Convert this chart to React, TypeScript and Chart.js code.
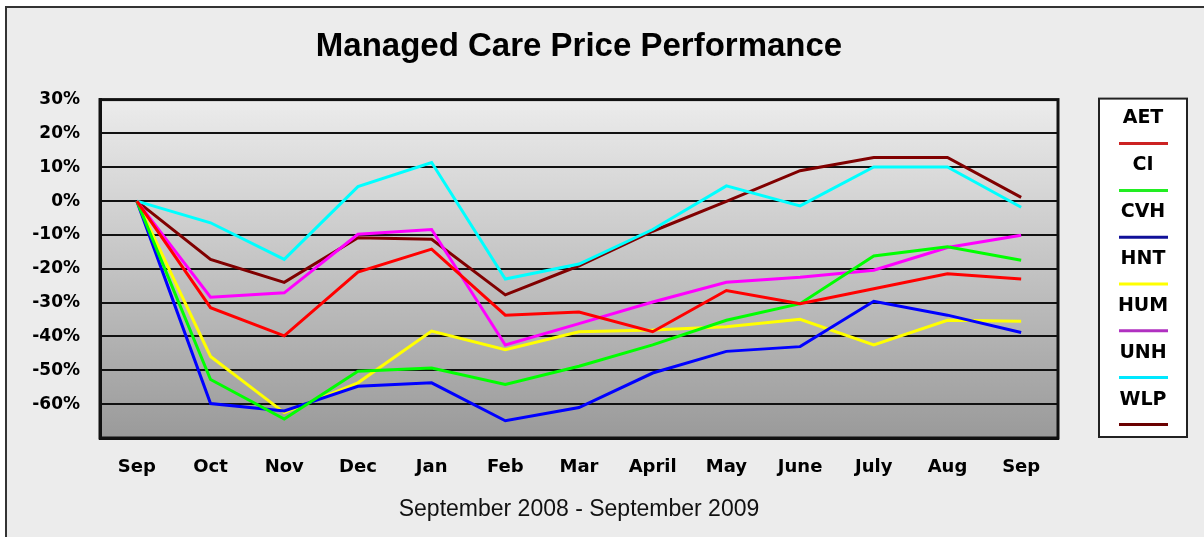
import React, { useEffect, useRef } from 'react';
import { Chart, registerables } from 'chart.js';

Chart.register(...registerables);

const months = ['Sep', 'Oct', 'Nov', 'Dec', 'Jan', 'Feb', 'Mar', 'April', 'May', 'June', 'July', 'Aug', 'Sep'];
const tickers = ['AET', 'CI', 'CVH', 'HNT', 'HUM', 'UNH', 'WLP'];
const aet = [0, -31.5, -39.8, -21, -14.2, -33.7, -32.8, -38.6, -26.4, -30.3, -25.9, -21.5, -23];
const ci = [0, -52.7, -64.4, -50.3, -49.3, -54.2, -48.8, -42.5, -35.2, -30.3, -16.2, -13.5, -17.5];
const cvh = [0, -59.8, -62, -54.7, -53.7, -64.9, -61, -50.8, -44.4, -43, -29.6, -33.7, -38.8];
const hnt = [0, -45.9, -62.5, -53.7, -38.4, -43.9, -38.6, -38.1, -37.1, -34.9, -42.5, -35.2, -35.5];
const hum = [0, -28.4, -27.1, -9.8, -8.4, -42.5, -36.2, -29.8, -24, -22.5, -20.4, -13.7, -10.1];
const unh = [0, -6.4, -17.2, 4.3, 11.4, -23, -18.6, -8.4, 4.5, -1.4, 10.1, 10.1, -1.8];
const wlp = [0, -17.2, -24, -10.8, -11.3, -27.7, -19.1, -8.9, -0.1, 9, 12.9, 12.9, 1.1];
const seriesValues = [aet, ci, cvh, hnt, hum, unh, wlp];
const colors = ['#ff0000', '#00ff00', '#0000ff', '#ffff00', '#ff00ff', '#00ffff', '#800000'];
const legendColors = ['#cc2222', '#22ee22', '#101099', '#ffff00', '#b030c0', '#00e8ff', '#6a0000'];
const yMin = -70;
const yMax = 30;
const yStep = 10;

const bgPlugin = {
  id: 'plotBg',
  beforeDraw(chart: any) {
    const { ctx, chartArea: a } = chart;
    ctx.save();
    const g = ctx.createLinearGradient(0, a.top, 0, a.bottom);
    g.addColorStop(0, '#ececec');
    g.addColorStop(1, '#9a9a9a');
    ctx.fillStyle = g;
    ctx.fillRect(a.left, a.top, a.right - a.left, a.bottom - a.top);
    ctx.restore();
  },
  afterDraw(chart: any) {
    const { ctx, chartArea: a } = chart;
    ctx.save();
    ctx.strokeStyle = '#111';
    ctx.lineWidth = 3;
    ctx.strokeRect(a.left, a.top, a.right - a.left, a.bottom - a.top);
    // side legend
    const left = a.right + 41;
    const top = a.top - 1;
    const w = 88;
    const h = a.bottom - a.top;
    ctx.fillStyle = '#ffffff';
    ctx.fillRect(left, top, w, h);
    ctx.strokeStyle = '#222';
    ctx.lineWidth = 2;
    ctx.strokeRect(left, top, w, h);
    const cx = left + w / 2;
    ctx.font = 'bold 19px "DejaVu Sans"';
    ctx.textAlign = 'center';
    ctx.textBaseline = 'middle';
    chart.data.datasets.forEach((ds: any, i: number) => {
      const ty = top + 19 + 47 * i;
      const ly = top + 45 + 46.8 * i;
      ctx.fillStyle = '#000';
      ctx.fillText(ds.label, cx, ty);
      ctx.strokeStyle = legendColors[i] || ds.borderColor;
      ctx.lineWidth = 3;
      ctx.beginPath();
      ctx.moveTo(cx - 24, ly);
      ctx.lineTo(cx + 25, ly);
      ctx.stroke();
    });
    ctx.restore();
  },
};

function ChartView() {
  const ref = useRef<HTMLCanvasElement | null>(null);
  useEffect(() => {
    if (!ref.current) return;
    const chart = new Chart(ref.current, {
      type: 'line',
      data: {
        labels: months,
        datasets: tickers.map((t, i) => ({
          label: t,
          data: seriesValues[i],
          borderColor: colors[i],
          backgroundColor: colors[i],
          borderWidth: 3,
          pointRadius: 0,
          tension: 0,
          fill: false,
        })),
      },
      options: {
        animation: false,
        responsive: true,
        maintainAspectRatio: false,
        layout: { padding: { left: 0, right: 146, top: 0, bottom: 0 } },
        plugins: {
          legend: { display: false },
          tooltip: { enabled: false },
          title: {
            display: true,
            fullSize: false,
            text: 'Managed Care Price Performance',
            color: '#000',
            font: { family: '"Liberation Sans", Arial', size: 33, weight: 'bold' },
            padding: { top: 19, bottom: 33 },
          },
        },
        scales: {
          x: {
            offset: true,
            grid: { display: false, drawTicks: false },
            border: { display: true, color: '#111', width: 3 },
            ticks: {
              color: '#000',
              padding: 19,
              font: { family: '"DejaVu Sans"', size: 18, weight: 'bold' },
              maxRotation: 0,
              autoSkip: false,
            },
            title: {
              display: true,
              text: 'September 2008 - September 2009',
              color: '#111',
              font: { family: '"Liberation Sans", Arial', size: 23 },
              padding: { top: 0, bottom: 14 },
            },
            afterFit(scale: any) {
              scale.height = 99;
            },
          },
          y: {
            min: yMin,
            max: yMax,
            grid: { color: '#111', lineWidth: 2, drawTicks: false },
            border: { display: true, color: '#111', width: 3 },
            ticks: {
              stepSize: yStep,
              color: '#000',
              padding: 20,
              font: { family: '"DejaVu Sans"', size: 17, weight: 'bold' },
              callback: (v: any) => (Number(v) === yMin ? '' : `${v}%`),
            },
            afterFit(scale: any) {
              scale.width = 93;
            },
          },
        },
      },
      plugins: [bgPlugin],
    });
    return () => chart.destroy();
  }, []);
  return <canvas ref={ref} />;
}

export default function App() {
  return (
    <div style={{ position: 'absolute', left: 0, top: 0, width: 1204, height: 537, background: '#ffffff', overflow: 'hidden' }}>
      <div
        style={{
          position: 'absolute',
          left: 5,
          top: 6,
          width: 1199,
          height: 531,
          borderTop: '2px solid #333',
          borderLeft: '2px solid #333',
          background: '#ececec',
          boxSizing: 'border-box',
        }}
      >
        <div style={{ position: 'absolute', left: 0, top: 0, width: 1197, height: 529 }}>
          <ChartView />
        </div>
      </div>
    </div>
  );
}
